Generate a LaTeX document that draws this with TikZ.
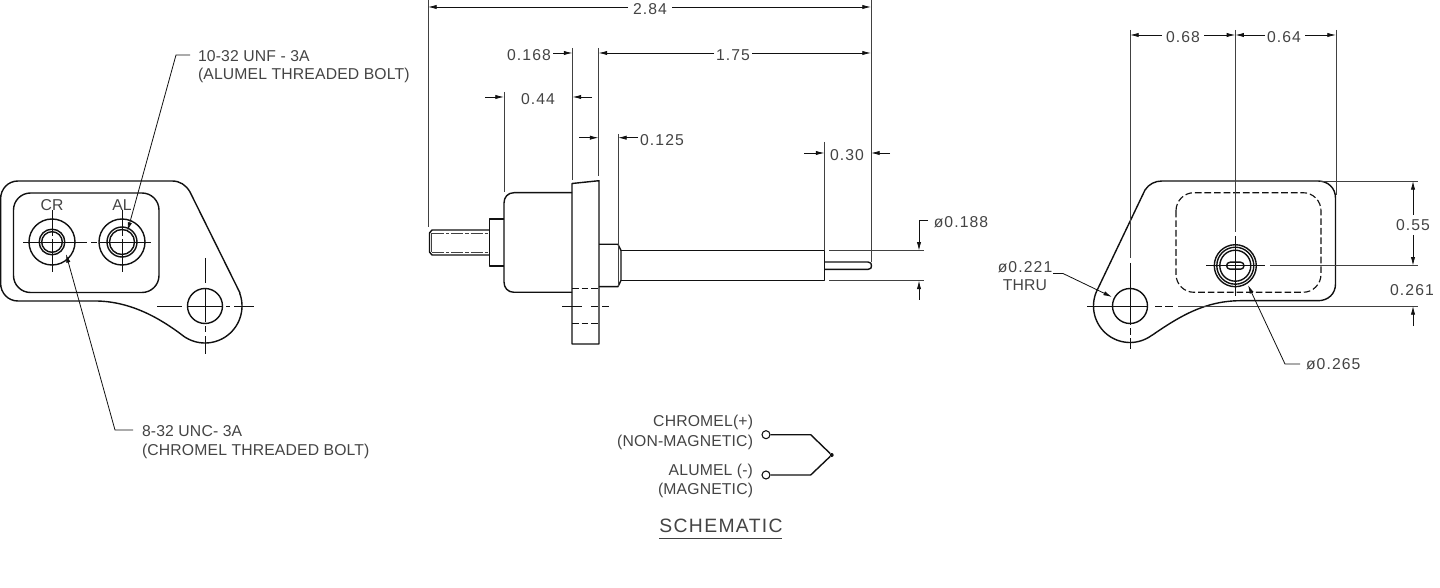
\documentclass[tikz,border=0pt]{standalone}
\usepackage{fontspec}
\setmainfont[LetterSpace=1]{Liberation Sans}
\newfontfamily\numfont[LetterSpace=7]{Liberation Sans}
\usetikzlibrary{arrows.meta}
\definecolor{ink}{HTML}{111111}
\definecolor{txt}{HTML}{444444}
\tikzset{
  obj/.style={draw=ink,line width=1.05pt,line join=round},
  thin line/.style={draw=ink!80,line width=0.6pt},
  hid/.style={draw=ink,line width=0.85pt,dash pattern=on 5pt off 2.2pt},
  ctr/.style={draw=ink,line width=0.7pt},
  dim/.style={draw=ink,line width=0.6pt,-{Latex[length=6.5pt,width=3.2pt]}},
  lab/.style={text=txt,font=\fontsize{11.8pt}{13pt}\selectfont,inner sep=0pt,outer sep=0pt},
  labl/.style={lab,anchor=west},
  labr/.style={lab,anchor=east},
  num/.style={lab,font=\numfont\fontsize{11.8pt}{13pt}\selectfont}
}
\begin{document}
\begin{tikzpicture}[x=0.75pt,y=-0.75pt]
\useasboundingbox (0,0) rectangle (1440,588);
\fill[white] (0,0) rectangle (1440,588);

% ---------- left view
\draw[obj] (0.6,199) .. controls (0.6,189) and (8,181) .. (18,181) -- (172,181)
  .. controls (180,181) and (186,185) .. (190,192) -- (240,293)
  -- plot[domain=-20:125,samples=40] ({205+37*cos(\x)},{306+37*sin(\x)})
  .. controls (160,318) and (130,301) .. (95,301) -- (18,301)
  .. controls (8,301) and (0.6,293) .. (0.6,283) -- cycle;
\draw[obj,rounded corners=17*0.75pt] (13.5,193) rectangle (159,292.5);
\foreach \cx/\ra/\rb in {52/12.8/10.3,122/15/12.5}{
  \draw[obj] (\cx,242) circle[radius=23];
  \draw[obj] (\cx,242) circle[radius=\ra];
  \draw[obj] (\cx,242) circle[radius=\rb];
  \draw[ctr] (\cx,210) -- (\cx,236) (\cx,239) -- (\cx,272);
}
\draw[ctr] (23,242) -- (87,242) (91,242) -- (97,242) (100,242) -- (151,242);
\draw[obj] (205,306) circle[radius=17.5];
\draw[ctr] (157,306) -- (182,306) (188,306) -- (222,306) (226,306) -- (230,306) (234,306) -- (254,306);
\draw[ctr] (205,258) -- (205,283) (205,289) -- (205,322) (205,326) -- (205,332) (205,336) -- (205,354);
\node[lab] (cr) at (52,205) {CR};
\node[lab] (al) at (122,205) {AL};
\coordinate (alhead) at (127.5,231);
\coordinate (crhead) at (66,254);
\coordinate (albend) at (176,55);
\coordinate (crbend) at (115,430);
\node[labl] (altop) at (198,56.5) {10-32 UNF - 3A};
\node[labl] (albot) at (198,75) {(ALUMEL THREADED BOLT)};
\node[labl] (crtop) at (142,431.5) {8-32 UNC- 3A};
\node[labl] (crbot) at (142,451) {(CHROMEL THREADED BOLT)};
\draw[dim] (190,55) -- (albend) -- (alhead);
\draw[dim] (133,430) -- (crbend) -- (crhead);

% ---------- side view
\draw[obj] (489.5,230) -- (432,230) -- (429.5,233) -- (429.5,252) -- (432,255) -- (489.5,255);
\draw[thin line] (431.5,233) -- (431.5,252);
\draw[thin line,dash pattern=on 9pt off 1.5pt on 2.5pt off 1.5pt] (432,233) -- (489.5,233) (432,252) -- (489.5,252);
\draw[obj] (504,219) -- (489.5,219) -- (489.5,266) -- (504,266);
\draw[obj] (572,192.7) -- (514,192.7) .. controls (508,192.7) and (504,197) .. (504,203) -- (504,282) .. controls (504,288) and (508,292.3) .. (514,292.3) -- (572,292.3);
\draw[obj] (572,183.5) -- (599,180.7) -- (599,344) -- (572,344) -- cycle;
\draw[hid] (572,288.7) -- (599,288.7) (572,323.7) -- (599,323.7);
\draw[ctr] (562,306) -- (582,306) (591,306) -- (598,306) (602,306) -- (609,306);
\draw[obj] (599,244.3) -- (618,244.3) -- (621,250.5) -- (621,280.3) -- (618,286.7) -- (599,286.7);
\draw[thin line] (618,244.3) -- (618,286.7);
\draw[obj] (621,250.5) -- (824.5,250.5) -- (824.5,280.3) -- (621,280.3);
\draw[obj] (824.5,262) -- (868,262) .. controls (871,262) and (871.5,264) .. (871.5,265.7) .. controls (871.5,267.5) and (871,269.4) .. (868,269.4) -- (824.5,269.4);

% dimensions, side view
\draw[thin line] (428,0) -- (428,227);
\draw[thin line] (871,0) -- (871,262);
\draw[dim] (628,7) -- (428,7);
\draw[dim] (672,7) -- (871,7);
\node[num] (d284) at (650,9) {2.84};
\draw[thin line] (572.5,48) -- (572.5,180);
\draw[thin line] (598.5,48) -- (598.5,176);
\draw[thin line] (504,92) -- (504,192);
\draw[thin line] (618,134) -- (618,244);
\draw[thin line] (824.5,142) -- (824.5,250);
\node[num] (d168) at (529,55) {0.168};
\draw[dim] (553,53) -- (572.5,53);
\node[num] (d175) at (733,55.5) {1.75};
\draw[dim] (714,53) -- (598.5,53);
\draw[dim] (752,53) -- (871,53);
\node[num] (d44) at (538,99) {0.44};
\draw[dim] (485,97) -- (504,97);
\draw[dim] (592,97) -- (572.5,97);
\node[num] (d125) at (662,140) {0.125};
\draw[dim] (579,137.7) -- (598.5,137.7);
\draw[dim] (638,137.7) -- (618,137.7);
\node[num] (d30) at (847,155) {0.30};
\draw[dim] (804,153) -- (824.5,153);
\draw[dim] (890,153) -- (871,153);
\node[num] (d188) at (961,222.5) {ø0.188};
\draw[thin line] (829,250.7) -- (924,250.7) (829,280.5) -- (924,280.5);
\draw[dim] (928,220.5) -- (919,220.5) -- (919,250.7);
\draw[dim] (919,300) -- (919,280.5);

% ---------- right view
\draw[obj] (1162,181) -- (1318,181) .. controls (1328,181) and (1335.5,188) .. (1335.5,198) -- (1335.5,284)
  .. controls (1335.5,294) and (1328,300.7) .. (1318,300.7) -- (1240,300.7)
  .. controls (1205,301) and (1180,316) .. (1152,335.3)
  -- plot[domain=53:203,samples=40] ({1130+36.5*cos(\x)},{306+36.5*sin(\x)})
  -- (1145,190) .. controls (1149,184) and (1155,181) .. (1162,181) -- cycle;
\draw[hid,rounded corners=18*0.75pt] (1176,192.7) rectangle (1321,292.3);
\draw[obj] (1130,306) circle[radius=17.5];
\draw[obj] (1235.3,265.7) circle[radius=21];
\draw[obj] (1235.3,265.7) circle[radius=18.5];
\draw[obj] (1235.3,265.7) circle[radius=15.5];
\draw[obj,rounded corners=2.6pt] (1226.6,262.2) rectangle (1244,269.2);
\draw[ctr] (1206,265.7) -- (1265,265.7);
\draw[ctr] (1235.3,236) -- (1235.3,296);
\draw[ctr] (1087,306) -- (1147,306) (1155,306) -- (1162,306) (1165,306) -- (1173,306);
\draw[ctr] (1130,263) -- (1130,325) (1130,328) -- (1130,335) (1130,338) -- (1130,349);

% dimensions, right view
\draw[thin line] (1130,30) -- (1130,258);
\draw[thin line] (1235.3,30) -- (1235.3,232);
\draw[thin line] (1336,30) -- (1336,195);
\node[num] (d68) at (1183,37) {0.68};
\node[num] (d64) at (1284,37) {0.64};
\draw[dim] (1162,35) -- (1130,35);
\draw[dim] (1204,35) -- (1235.3,35);
\draw[dim] (1265,35) -- (1235.3,35);
\draw[dim] (1305,35) -- (1336,35);
\draw[thin line] (1320,181) -- (1418,181);
\draw[thin line] (1270,265.7) -- (1418,265.7);
\draw[thin line] (1178,306) -- (1418,306);
\node[num] (d55) at (1413,225) {0.55};
\draw[dim] (1413,215) -- (1413,181);
\draw[dim] (1413,235) -- (1413,265.7);
\node[num] (d261) at (1412,290) {0.261};
\draw[dim] (1413,326) -- (1413,306);
\node[num] (d221a) at (1025,267) {ø0.221};
\node[lab] (d221b) at (1025,285.5) {THRU};
\draw[dim] (1053,273.5) -- (1063,273.5) -- (1112,297);
\node[num,anchor=west] (d265) at (1306,364.5) {ø0.265};
\draw[dim] (1300,364) -- (1285,364) -- (1248,285);

% ---------- schematic
\node[labr] (s1) at (753,422) {CHROMEL(+)};
\node[labr] (s2) at (753,442) {(NON-MAGNETIC)};
\node[labr] (s3) at (753,471) {ALUMEL (-)};
\node[labr] (s4) at (753,490.5) {(MAGNETIC)};
\node[lab,font=\numfont\fontsize{14.5pt}{16pt}\selectfont] (s5) at (721,526) {SCHEMATIC};
\draw[thin line] (659,538.5) -- (782,538.5);
\node[circle,draw=ink,line width=0.8pt,fill=white,inner sep=0pt,minimum size=6pt] (ca) at (766,434.7) {};
\node[circle,draw=ink,line width=0.8pt,fill=white,inner sep=0pt,minimum size=6pt] (cb) at (766,475) {};
\node[circle,fill=ink,inner sep=0pt,minimum size=3pt] (j) at (831.7,455) {};
\draw[obj] (ca) -- (810.7,434.7) -- (j) -- (810.7,475) -- (cb);
\end{tikzpicture}
\end{document}
